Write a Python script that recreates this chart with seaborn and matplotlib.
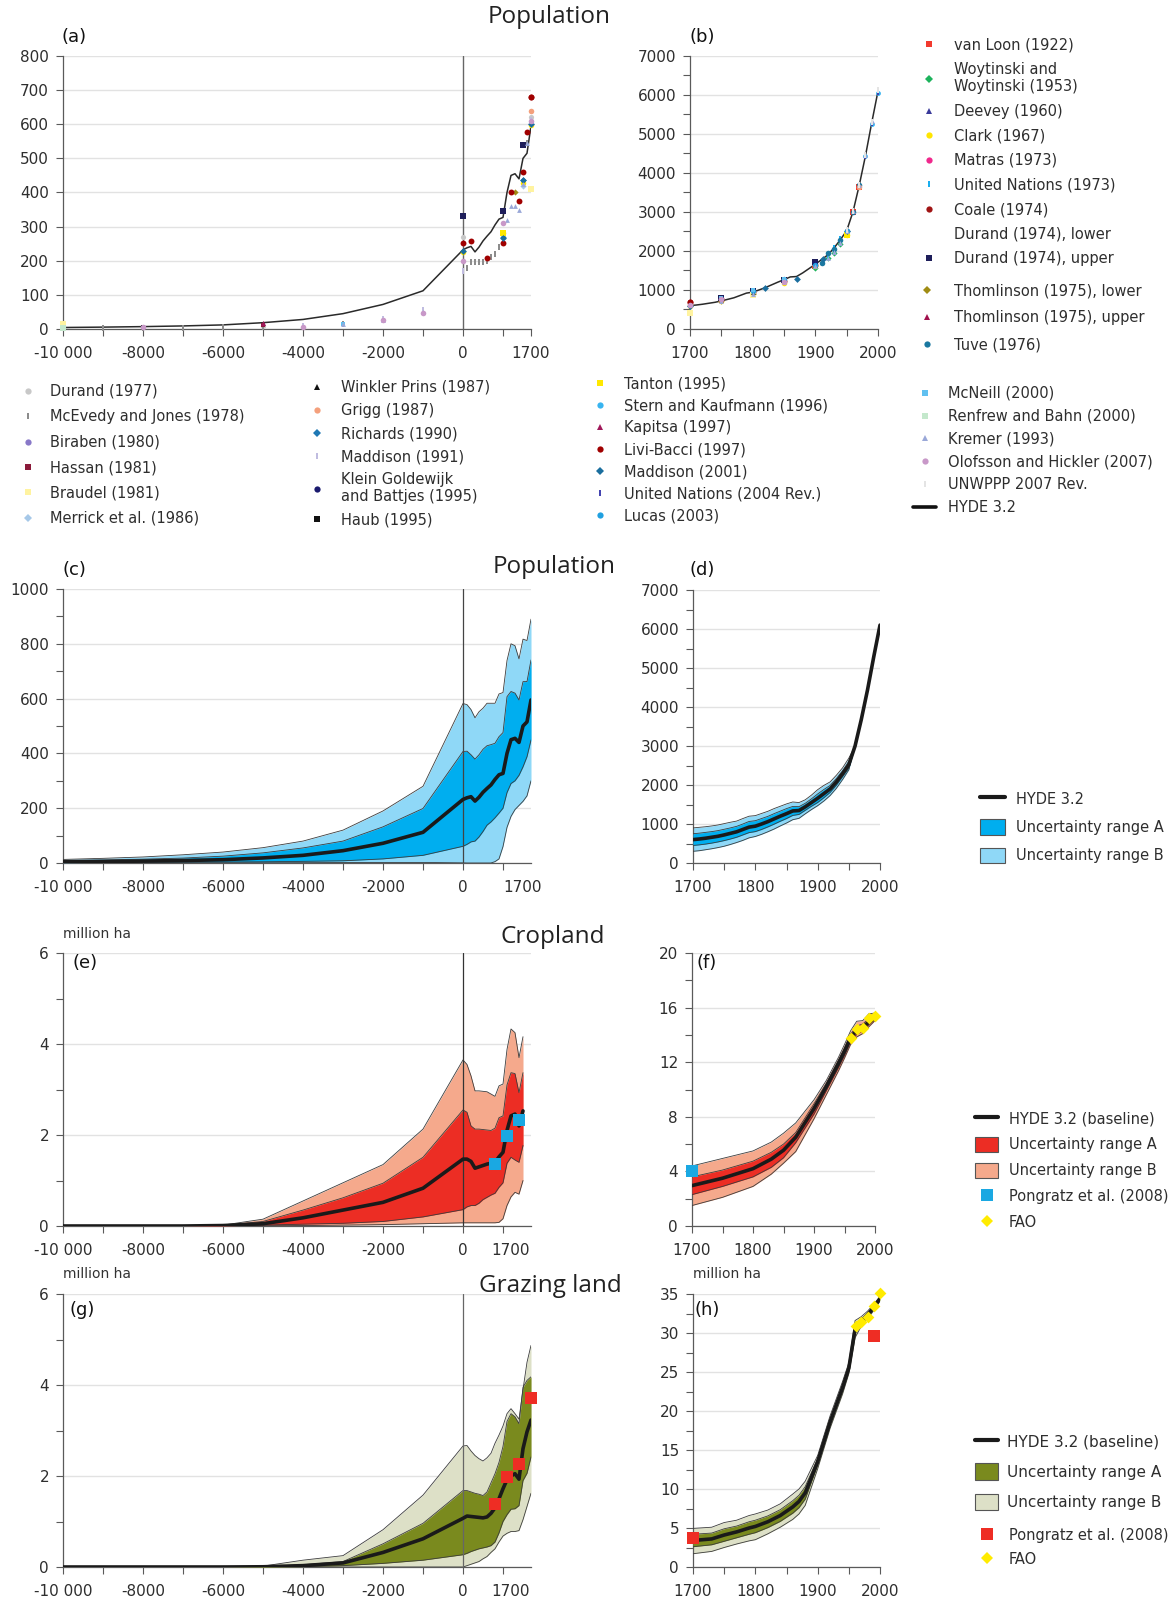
import matplotlib
matplotlib.use("Agg")
import matplotlib.pyplot as plt
import seaborn as sns
from matplotlib.lines import Line2D
from matplotlib.patches import Patch

# ======================= DATA =======================
# --- population, long period (million) ---
pop_years_long = [-10000, -9000, -8000, -7000, -6000, -5000, -4000, -3000, -2000, -1000,
                  0, 100, 200, 300, 400, 500, 600, 700, 800, 900, 1000, 1100, 1200, 1300,
                  1400, 1500, 1600, 1700]
pop_hyde_long = [4.4, 5.5, 7.0, 9.0, 12.0, 18.5, 28.0, 45.0, 72.0, 112.0,
                 232.0, 238.0, 242.0, 226.0, 240.0, 258.0, 272.0, 285.0, 305.0, 322.0,
                 327.0, 400.0, 450.0, 455.0, 440.0, 500.0, 515.0, 595.0]
pop_A_lo_long = [1.5, 2.0, 2.5, 3.0, 3.5, 4.5, 6.0, 8.0, 15.0, 28.0,
                 61.0, 68.0, 77.0, 80.0, 95.0, 115.0, 138.0, 150.0, 165.0, 182.0,
                 200.0, 257.0, 290.0, 300.0, 320.0, 351.0, 388.0, 449.0]
pop_A_hi_long = [9.0, 11.0, 14.0, 18.0, 25.0, 37.0, 55.0, 80.0, 132.0, 199.0,
                 407.0, 408.0, 395.0, 379.0, 395.0, 415.0, 428.0, 432.0, 437.0, 461.0,
                 476.0, 607.0, 626.0, 620.0, 595.0, 662.0, 662.0, 741.0]
pop_B_lo_long = [0.3, 0.4, 0.5, 0.6, 0.8, 1.0, 1.2, 1.6, 2.0, 2.0,
                 0.5, 0.0, 0.0, 0.0, 0.0, 0.0, 0.0, 0.0, 5.0, 15.0,
                 60.0, 130.0, 170.0, 195.0, 210.0, 225.0, 245.0, 300.0]
pop_B_hi_long = [13.0, 17.0, 22.0, 30.0, 40.0, 56.0, 80.0, 120.0, 190.0, 280.0,
                 582.0, 578.0, 560.0, 530.0, 552.0, 565.0, 583.0, 583.0, 583.0, 617.0,
                 622.0, 739.0, 800.0, 793.0, 745.0, 817.0, 812.0, 890.0]

# --- population, 1700-2000 ---
pop_years_recent = [1700, 1710, 1720, 1730, 1740, 1750, 1760, 1770, 1780, 1790, 1800,
                    1810, 1820, 1830, 1840, 1850, 1860, 1870, 1880, 1890, 1900,
                    1910, 1920, 1930, 1940, 1950, 1960, 1970, 1980, 1990, 2000]
pop_hyde_recent = [600, 615, 635, 660, 685, 720, 760, 800, 860, 920, 945,
                   1000, 1060, 1130, 1200, 1265, 1335, 1345, 1440, 1550, 1660,
                   1780, 1900, 2080, 2290, 2520, 3000, 3680, 4440, 5290, 6100]
pop_A_lo_recent = [450, 465, 485, 510, 540, 575, 615, 660, 720, 780, 805,
                   860, 925, 995, 1070, 1140, 1220, 1245, 1350, 1455, 1550,
                   1675, 1810, 1995, 2215, 2435, 3000, 3680, 4440, 5290, 6100]
pop_A_hi_recent = [750, 765, 785, 805, 830, 865, 900, 940, 1000, 1065, 1085,
                   1140, 1195, 1265, 1330, 1395, 1450, 1445, 1530, 1645, 1770,
                   1885, 1990, 2165, 2365, 2605, 3000, 3680, 4440, 5290, 6100]
pop_B_lo_recent = [300, 315, 340, 365, 395, 430, 475, 525, 580, 645, 680,
                   735, 800, 870, 950, 1025, 1110, 1145, 1260, 1370, 1470,
                   1590, 1730, 1915, 2140, 2390, 3000, 3680, 4440, 5290, 6100]
pop_B_hi_recent = [900, 915, 930, 950, 975, 1010, 1045, 1075, 1140, 1200, 1215,
                   1270, 1325, 1395, 1455, 1515, 1565, 1550, 1620, 1740, 1880,
                   1990, 2080, 2250, 2440, 2690, 3000, 3680, 4440, 5290, 6100]

# --- cropland, long period ---
crop_years_long = [-10000, -9000, -8000, -7000, -6000, -5000, -4000, -3000, -2000, -1000,
                   0, 100, 200, 300, 400, 500, 600, 700, 800, 900, 1000, 1100, 1200,
                   1300, 1400, 1500]
crop_hyde_long = [0.0, 0.0, 0.0, 0.0, 0.01, 0.05, 0.18, 0.35, 0.52, 0.83,
                  1.47, 1.47, 1.42, 1.27, 1.30, 1.33, 1.36, 1.38, 1.40, 1.52, 1.62,
                  2.10, 2.42, 2.46, 2.20, 2.53]
crop_A_lo_long = [0.0, 0.0, 0.0, 0.0, 0.005, 0.02, 0.04, 0.06, 0.10, 0.20,
                  0.36, 0.42, 0.45, 0.45, 0.50, 0.58, 0.63, 0.68, 0.72, 0.85, 0.95,
                  1.38, 1.51, 1.45, 1.40, 1.77]
crop_A_hi_long = [0.0, 0.0, 0.0, 0.0, 0.015, 0.10, 0.35, 0.62, 0.94, 1.51,
                  2.55, 2.50, 2.20, 2.13, 2.13, 2.12, 2.11, 2.10, 2.15, 2.38, 2.42,
                  3.10, 3.37, 3.35, 2.93, 3.37]
crop_B_lo_long = [0.0, 0.0, 0.0, 0.0, 0.0, 0.005, 0.01, 0.02, 0.03, 0.05,
                  0.07, 0.07, 0.07, 0.07, 0.07, 0.07, 0.07, 0.07, 0.07, 0.08, 0.16,
                  0.45, 0.64, 0.74, 0.70, 1.00]
crop_B_hi_long = [0.0, 0.0, 0.0, 0.0, 0.02, 0.15, 0.55, 0.95, 1.35, 2.13,
                  3.65, 3.55, 3.30, 2.97, 2.97, 2.96, 2.95, 2.90, 2.85, 3.08, 3.12,
                  3.88, 4.33, 4.25, 3.70, 4.16]

# --- cropland, 1700-2000 ---
crop_years_recent = [1700, 1750, 1800, 1830, 1850, 1870, 1900, 1920, 1940, 1950,
                     1960, 1970, 1980, 1990, 2000]
crop_hyde_recent = [2.96, 3.50, 4.20, 4.90, 5.55, 6.50, 8.60, 10.20, 11.90, 12.80,
                    13.80, 14.35, 14.55, 14.95, 15.30]
crop_A_lo_recent = [2.30, 2.90, 3.60, 4.30, 5.00, 6.10, 8.20, 9.90, 11.60, 12.50,
                    13.50, 14.05, 14.30, 14.75, 15.15]
crop_A_hi_recent = [3.60, 4.10, 4.75, 5.40, 6.00, 6.85, 8.95, 10.45, 12.15, 13.05,
                    14.05, 14.65, 14.80, 15.20, 15.45]
crop_B_lo_recent = [1.50, 2.10, 2.90, 3.80, 4.60, 5.45, 7.85, 9.60, 11.35, 12.30,
                    13.30, 13.85, 14.10, 14.60, 15.05]
crop_B_hi_recent = [4.40, 4.95, 5.50, 6.15, 6.80, 7.55, 9.25, 10.65, 12.35, 13.30,
                    14.30, 15.00, 15.05, 15.55, 15.60]
crop_pongratz_years = [800, 1100, 1400, 1700]
crop_pongratz_vals = [1.37, 1.97, 2.34, 4.0]
crop_fao_years = [1961, 1970, 1980, 1990, 2000]
crop_fao_vals = [13.8, 14.45, 14.5, 15.25, 15.35]

# --- grazing land, long period ---
graz_years_long = pop_years_long
graz_hyde_long = [0.0, 0.0, 0.0, 0.0, 0.0, 0.005, 0.03, 0.09, 0.32, 0.62,
                  1.07, 1.12, 1.11, 1.10, 1.09, 1.08, 1.10, 1.18, 1.30, 1.50,
                  1.72, 1.92, 2.00, 2.05, 1.93, 2.60, 2.97, 3.23]
graz_A_lo_long = [0.0, 0.0, 0.0, 0.0, 0.0, 0.0, 0.01, 0.03, 0.08, 0.15,
                  0.27, 0.30, 0.34, 0.37, 0.40, 0.42, 0.44, 0.47, 0.55, 0.75,
                  1.00, 1.15, 1.27, 1.28, 1.35, 1.90, 2.06, 2.42]
graz_A_hi_long = [0.0, 0.0, 0.0, 0.0, 0.0, 0.01, 0.05, 0.12, 0.51, 0.96,
                  1.68, 1.68, 1.65, 1.62, 1.60, 1.57, 1.65, 1.85, 2.05, 2.30,
                  2.65, 3.20, 3.37, 3.30, 3.15, 3.95, 4.10, 4.18]
graz_B_lo_long = [0.0, 0.0, 0.0, 0.0, 0.0, 0.0, 0.0, 0.0, 0.0, 0.0,
                  0.0, 0.03, 0.06, 0.09, 0.12, 0.18, 0.23, 0.32, 0.40, 0.55,
                  0.68, 0.74, 0.78, 0.78, 0.80, 1.04, 1.33, 1.62]
graz_B_hi_long = [0.0, 0.0, 0.0, 0.0, 0.0, 0.02, 0.15, 0.25, 0.82, 1.58,
                  2.66, 2.67, 2.55, 2.45, 2.38, 2.33, 2.40, 2.50, 2.72, 2.90,
                  3.10, 3.37, 3.48, 3.37, 3.25, 3.90, 4.50, 4.87]

# --- grazing land, 1700-2000 ---
graz_years_recent = [1700, 1730, 1750, 1770, 1790, 1800, 1820, 1840, 1860, 1870,
                     1880, 1900, 1920, 1940, 1950, 1960, 1970, 1980, 1990, 2000]
graz_hyde_recent = [3.4, 3.6, 4.1, 4.5, 5.0, 5.2, 5.8, 6.6, 7.7, 8.4,
                    9.5, 13.5, 18.6, 23.0, 25.5, 30.5, 31.5, 32.3, 33.3, 34.4]
graz_A_lo_recent = [2.6, 2.85, 3.3, 3.75, 4.2, 4.4, 5.05, 5.85, 6.9, 7.6,
                    8.7, 13.1, 18.2, 22.6, 25.15, 29.95, 31.2, 32.05, 33.1, 34.25]
graz_A_hi_recent = [4.2, 4.35, 4.9, 5.25, 5.8, 6.0, 6.55, 7.35, 8.5, 9.2,
                    10.3, 13.9, 19.0, 23.4, 25.85, 31.05, 31.8, 32.55, 33.5, 34.55]
graz_B_lo_recent = [1.7, 2.0, 2.5, 2.95, 3.35, 3.5, 4.25, 5.1, 6.1, 6.8,
                    7.9, 12.6, 17.8, 22.2, 24.8, 29.4, 30.9, 31.8, 32.9, 34.1]
graz_B_hi_recent = [4.95, 5.1, 5.7, 6.0, 6.6, 6.8, 7.3, 8.1, 9.35, 10.0,
                    11.0, 14.3, 19.4, 23.8, 26.2, 31.6, 32.1, 32.8, 33.7, 34.7]
graz_pongratz_years = [800, 1100, 1400, 1700, 1990]
graz_pongratz_vals = [1.39, 1.97, 2.27, 3.72, 29.6]
graz_fao_years = [1961, 1970, 1980, 1990, 2000]
graz_fao_vals = [30.9, 31.4, 32.1, 33.5, 35.1]

# --- population estimates from literature (panels a and b) ---
src_labels = [
    "van Loon (1922)", "Woytinski and\nWoytinski (1953)", "Deevey (1960)", "Clark (1967)",
    "Matras (1973)", "United Nations (1973)", "Coale (1974)", "Durand (1974), lower",
    "Durand (1974), upper", "Thomlinson (1975), lower", "Thomlinson (1975), upper",
    "Tuve (1976)",
    "Durand (1977)", "McEvedy and Jones (1978)", "Biraben (1980)", "Hassan (1981)",
    "Braudel (1981)", "Merrick et al. (1986)",
    "Winkler Prins (1987)", "Grigg (1987)", "Richards (1990)", "Maddison (1991)",
    "Klein Goldewijk\nand Battjes (1995)", "Haub (1995)",
    "Tanton (1995)", "Stern and Kaufmann (1996)", "Kapitsa (1997)", "Livi-Bacci (1997)",
    "Maddison (2001)", "United Nations (2004 Rev.)", "Lucas (2003)",
    "McNeill (2000)", "Renfrew and Bahn (2000)", "Kremer (1993)",
    "Olofsson and Hickler (2007)", "UNWPPP 2007 Rev.",
]
src_years = [
    [1900, 1960, 1970],
    [1900, 1920, 1930, 1940],
    [1750, 1800, 1900],
    [0, 1000, 1500, 1700, 1750, 1800, 1850, 1900, 1950],
    [1750, 1800, 1850, 1900],
    [1920, 1930, 1940, 1950, 1960, 1970],
    [1700, 1750, 1800, 1850, 1900],
    [1750, 1800, 1850, 1900],
    [0, 1000, 1500, 1750, 1800, 1850, 1900],
    [1300, 1750, 1800],
    [1750, 1800, 1850],
    [1900, 1910, 1920, 1930, 1940, 1950, 1960, 1970],
    [-10000, -5000, 0, 1700, 1750, 1800],
    [-10000, -9000, -8000, -7000, -6000, -5000, -4000, -3000, -2000, -1000, 0, 100, 200,
     300, 400, 500, 600, 700, 800, 900, 1000, 1600],
    [1700, 1750, 1800, 1850, 1900],
    [-10000, -5000],
    [-10000, 1700, 1800],
    [1500, 1700, 1800, 1850, 1900],
    [1800],
    [1700, 1970],
    [1000, 1500],
    [-4000, -2000, -1000, 0, 1000, 1700],
    [1750, 1900],
    [-8000],
    [1000, 1950],
    [1980, 1990, 2000],
    [-5000],
    [0, 200, 600, 1000, 1200, 1400, 1500, 1600, 1700],
    [0, 1000, 1500, 1700, 1820, 1870, 1913, 1950],
    [1950, 1960, 1970, 1980, 1990, 2000],
    [1800, 1850, 1900, 1950],
    [-3000, 1750, 1800, 1850],
    [-10000],
    [-3000, -2000, -1000, 1100, 1200, 1300, 1400, 1500, 1600, 1700, 1750, 1800, 1850,
     1900, 1920, 1930, 1940, 1950, 1960, 1970, 1980, 1990],
    [-8000, -4000, -2000, -1000, 0, 1000, 1700, 1750, 1850],
    [1950, 1960, 1970, 1980, 1990, 2000],
]
src_values = [
    [1610, 2990, 3640],
    [1570, 1810, 1950, 2170],
    [770, 920, 1660],
    [225, 282, 428, 598, 725, 905, 1185, 1610, 2400],
    [725, 900, 1210, 1650],
    [1860, 2070, 2300, 2510, 3000, 3630],
    [680, 770, 950, 1240, 1650],
    [700, 880, 1150, 1550],
    [330, 345, 540, 800, 970, 1260, 1710],
    [400, 710, 890],
    [780, 950, 1260],
    [1650, 1700, 1950, 2050, 2270, 2500, 3010, 3680],
    [6, 9, 270, 620, 760, 930],
    [4, 4, 4, 4, 5, 5, 7, 14, 27, 50, 170, 180, 195, 195, 195, 195, 200, 210, 220, 240,
     254, 545],
    [605, 770, 950, 1240, 1630],
    [5, 12],
    [15, 410, 860],
    [420, 600, 980, 1290, 1650],
    [940],
    [640, 3640],
    [270, 437],
    [8, 30, 55, 170, 262, 612],
    [790, 1700],
    [5],
    [282, 2400],
    [4430, 5260, 6060],
    [18],
    [252, 257, 207, 253, 400, 375, 460, 578, 680],
    [230, 268, 437, 600, 1040, 1270, 1790, 2520],
    [2520, 3020, 3700, 4440, 5280, 6070],
    [985, 1265, 1650, 2520],
    [14, 790, 1000, 1280],
    [4],
    [14, 27, 50, 320, 360, 360, 350, 425, 545, 610, 720, 900, 1200, 1625, 1813, 1987,
     2213, 2516, 3019, 3693, 4450, 5333],
    [5, 7, 25, 48, 200, 310, 610, 760, 1200],
    [2535, 3032, 3699, 4451, 5295, 6124],
]

# ======================= STYLES =======================
BAR = [(-0.38, -1), (0.38, -1), (0.38, 1), (-0.38, 1), (-0.38, -1)]
src_colors = [
    "#F23A2E", "#1DB35C", "#3A3A9A", "#FFE500", "#F0288C", "#1AAEEF", "#A01414", "#FFFFFF",
    "#1E1E5A", "#A08C14", "#A0104C", "#1A78A0",
    "#C8C8C8", "#8C8C8C", "#8878C8", "#8B1A3A", "#FFF3A0", "#A6C8E8",
    "#111111", "#F4A07C", "#1F78B4", "#C0BCE0", "#1A1A6E", "#111111",
    "#FFE800", "#38B4F0", "#A0185A", "#A00000", "#1A6E9E", "#4444B0", "#20A0E0",
    "#60C0F0", "#C4E8CC", "#9AA8D8", "#C898C8", "#E4E4E4",
]
src_markers = [
    "s", "D", "^", "o", "o", BAR, "o", "o", "s", "D", "^", "o",
    "o", BAR, "o", "s", "s", "D",
    "^", "o", "D", BAR, "o", "s",
    "s", "o", "^", "o", "D", BAR, "o",
    "s", "s", "^", "o", BAR,
]
src_sizes = [14, 10, 14, 16, 10, 22, 18, 14, 14, 10, 12, 16,
             14, 22, 14, 10, 14, 10,
             12, 16, 10, 22, 14, 6,
             14, 12, 14, 18, 12, 22, 14,
             12, 14, 12, 16, 22]

POP_A, POP_B = "#00AEEF", "#8FD8F7"
CROP_A, CROP_B = "#EC2D24", "#F5A98C"
GRAZ_A, GRAZ_B = "#7A8A1E", "#DDE0C7"
EDGE = "#3c3c3c"
TXT = "#2e2e2e"
SP = "#5a5a5a"
TICK_FS = 11
LEG_FS = 10.5

sns.set_theme(style="white")
plt.rcParams["font.family"] = ["DejaVu Sans"]
plt.rcParams["axes.unicode_minus"] = False

W, H = 1169, 1601
fig = plt.figure(figsize=(W / 100, H / 100), dpi=100)
fig.patch.set_facecolor("white")


def add_ax(l, r, t, b):
    return fig.add_axes([l / W, 1 - b / H, (r - l) / W, (b - t) / H])


def style_ax(ax, xlim, ylim, ymaj, ymin, xmaj, xlab, xmin, hide_last_tick=False):
    ax.set_xlim(*xlim)
    ax.set_ylim(*ylim)
    ax.set_yticks(ymaj)
    ax.set_yticklabels([f"{v:g}" for v in ymaj])
    if ymin:
        ax.set_yticks(ymin, minor=True)
    ax.set_xticks(xmaj)
    ax.set_xticklabels(xlab)
    if xmin:
        ax.set_xticks(xmin, minor=True)
    ax.grid(False)
    ax.yaxis.grid(True, which="major", color="#e2e2e2", lw=1.0)
    ax.set_axisbelow(True)
    ax.set_facecolor("white")
    for s in ["top", "right"]:
        ax.spines[s].set_visible(False)
    for s in ["left", "bottom"]:
        ax.spines[s].set_color(SP)
        ax.spines[s].set_linewidth(0.9)
    ax.tick_params(which="both", bottom=True, left=True, direction="out", color=SP,
                   width=0.8, length=5, labelcolor=TXT, labelsize=TICK_FS)
    ax.tick_params(axis="x", which="both", pad=7)
    ax.tick_params(axis="y", which="both", pad=5)
    if hide_last_tick:
        ax.xaxis.get_major_ticks()[-1].tick1line.set_visible(False)


def draw_bands(ax, x, blo, bhi, alo, ahi, mid, cB, cA, mid_lw=2.6):
    ax.fill_between(x, blo, bhi, color=cB, lw=0, zorder=2)
    ax.fill_between(x, alo, ahi, color=cA, lw=0, zorder=3)
    for arr in (blo, bhi, alo, ahi):
        sns.lineplot(x=x, y=arr, ax=ax, color=EDGE, lw=0.6, sort=False,
                     estimator=None, zorder=4, legend=False)
    sns.lineplot(x=x, y=mid, ax=ax, color="#1a1a1a", lw=mid_lw, sort=False,
                 estimator=None, zorder=6, legend=False)


def scatter_sources(ax, keep):
    for lab, yrs, vals, c, m, s in zip(src_labels, src_years, src_values,
                                       src_colors, src_markers, src_sizes):
        px = [y for y in yrs if keep(y)]
        pv = [v for y, v in zip(yrs, vals) if keep(y)]
        if not px:
            continue
        sns.scatterplot(x=px, y=pv, ax=ax, color=c, marker=m, s=s, linewidth=0,
                        zorder=7 if c != "#FFFFFF" else 1, clip_on=False, legend=False)


long_xmaj_vals = [-10000, -8000, -6000, -4000, -2000, 0]
long_xlabels = ["-10 000", "-8000", "-6000", "-4000", "-2000", "0", "1700"]
long_xminor = [-9000, -7000, -5000, -3000, -1000, 1000]
rec_xmaj = [1700, 1800, 1900, 2000]
rec_xlab = ["1700", "1800", "1900", "2000"]
rec_xmin = [1750, 1850, 1950]

# ---------------- (a) ----------------
ax_a = add_ax(63, 531, 56, 329)
ax_a.axvline(0, color="#666666", lw=1.0, zorder=5)
sns.lineplot(x=pop_years_long, y=pop_hyde_long, ax=ax_a, color="#2a2a2a", lw=1.1,
             sort=False, estimator=None, zorder=6, legend=False)
scatter_sources(ax_a, lambda y: y <= 1700)
style_ax(ax_a, (-10000, 1700), (0, 800), list(range(0, 801, 100)), None,
         long_xmaj_vals + [1700], long_xlabels, long_xminor)

# ---------------- (b) ----------------
ax_b = add_ax(690, 878, 56, 329)
sns.lineplot(x=pop_years_recent, y=pop_hyde_recent, ax=ax_b, color="#2a2a2a", lw=1.1,
             sort=False, estimator=None, zorder=6, legend=False)
scatter_sources(ax_b, lambda y: y >= 1700)
style_ax(ax_b, (1700, 2000), (0, 7000), list(range(0, 7001, 1000)),
         list(range(500, 7000, 1000)), rec_xmaj, rec_xlab, rec_xmin)

# ---------------- (c) ----------------
ax_c = add_ax(63, 531, 589, 863)
draw_bands(ax_c, pop_years_long, pop_B_lo_long, pop_B_hi_long, pop_A_lo_long,
           pop_A_hi_long, pop_hyde_long, POP_B, POP_A)
ax_c.axvline(0, color="#444444", lw=0.9, zorder=5)
style_ax(ax_c, (-10000, 1700), (0, 1000), list(range(0, 1001, 200)),
         list(range(100, 1000, 200)), long_xmaj_vals + [1480], long_xlabels, long_xminor,
         hide_last_tick=True)

# ---------------- (d) ----------------
ax_d = add_ax(693, 880, 590, 863)
draw_bands(ax_d, pop_years_recent, pop_B_lo_recent, pop_B_hi_recent, pop_A_lo_recent,
           pop_A_hi_recent, pop_hyde_recent, POP_B, POP_A)
style_ax(ax_d, (1700, 2000), (0, 7000), list(range(0, 7001, 1000)),
         list(range(500, 7000, 1000)), rec_xmaj, rec_xlab, rec_xmin)

# ---------------- (e) ----------------
ax_e = add_ax(63, 531, 953, 1226)
draw_bands(ax_e, crop_years_long, crop_B_lo_long, crop_B_hi_long, crop_A_lo_long,
           crop_A_hi_long, crop_hyde_long, CROP_B, CROP_A)
ax_e.axvline(0, color="#333333", lw=0.9, zorder=5)
px = [y for y in crop_pongratz_years if y < 1700]
pv = [v for y, v in zip(crop_pongratz_years, crop_pongratz_vals) if y < 1700]
sns.scatterplot(x=px, y=pv, ax=ax_e, color="#1AA8E2", marker="s", s=75, linewidth=0,
                zorder=8, legend=False)
style_ax(ax_e, (-10000, 1700), (0, 6), [0, 2, 4, 6], [1, 3, 5],
         long_xmaj_vals + [1200], long_xlabels, long_xminor, hide_last_tick=True)

# ---------------- (f) ----------------
ax_f = add_ax(692, 875, 953, 1226)
draw_bands(ax_f, crop_years_recent, crop_B_lo_recent, crop_B_hi_recent,
           crop_A_lo_recent, crop_A_hi_recent, crop_hyde_recent, CROP_B, CROP_A)
px = [y for y in crop_pongratz_years if y >= 1700]
pv = [v for y, v in zip(crop_pongratz_years, crop_pongratz_vals) if y >= 1700]
sns.scatterplot(x=px, y=pv, ax=ax_f, color="#1AA8E2", marker="s", s=75, linewidth=0,
                zorder=8, clip_on=False, legend=False)
sns.scatterplot(x=crop_fao_years, y=crop_fao_vals, ax=ax_f, color="#FFEB00", marker="D",
                s=36, linewidth=0, zorder=8, clip_on=False, legend=False)
style_ax(ax_f, (1700, 2000), (0, 20), [0, 4, 8, 12, 16, 20], [2, 6, 10, 14, 18],
         rec_xmaj, rec_xlab, rec_xmin)

# ---------------- (g) ----------------
ax_g = add_ax(63, 531, 1294, 1567)
draw_bands(ax_g, graz_years_long, graz_B_lo_long, graz_B_hi_long, graz_A_lo_long,
           graz_A_hi_long, graz_hyde_long, GRAZ_B, GRAZ_A)
ax_g.axvline(0, color="#666666", lw=0.9, zorder=5)
px = [y for y in graz_pongratz_years if y <= 1700]
pv = [v for y, v in zip(graz_pongratz_years, graz_pongratz_vals) if y <= 1700]
sns.scatterplot(x=px, y=pv, ax=ax_g, color="#EE2D24", marker="s", s=75, linewidth=0,
                zorder=8, clip_on=False, legend=False)
style_ax(ax_g, (-10000, 1700), (0, 6), [0, 2, 4, 6], [1, 3, 5],
         long_xmaj_vals + [1200], long_xlabels, long_xminor, hide_last_tick=True)

# ---------------- (h) ----------------
ax_h = add_ax(693, 880, 1294, 1567)
draw_bands(ax_h, graz_years_recent, graz_B_lo_recent, graz_B_hi_recent,
           graz_A_lo_recent, graz_A_hi_recent, graz_hyde_recent, GRAZ_B, GRAZ_A)
px = [y for y in graz_pongratz_years if y >= 1700]
pv = [v for y, v in zip(graz_pongratz_years, graz_pongratz_vals) if y >= 1700]
sns.scatterplot(x=px, y=pv, ax=ax_h, color="#EE2D24", marker="s", s=75, linewidth=0,
                zorder=8, clip_on=False, legend=False)
sns.scatterplot(x=graz_fao_years, y=graz_fao_vals, ax=ax_h, color="#FFEB00", marker="D",
                s=36, linewidth=0, zorder=8, clip_on=False, legend=False)
style_ax(ax_h, (1700, 2000), (0, 35), list(range(0, 36, 5)),
         [2.5, 7.5, 12.5, 17.5, 22.5, 27.5, 32.5], rec_xmaj, rec_xlab, rec_xmin)

# ---------------- texts ----------------
TITLE_FONT = ["Open Sans", "DejaVu Sans"]
for txt, x, y in [("Population", 549, 17), ("Population", 554, 567),
                  ("Cropland", 553, 937), ("Grazing land", 550, 1286)]:
    fig.text(x / W, 1 - y / H, txt, ha="center", va="center", fontsize=17.5,
             color="#222222", family=TITLE_FONT)
for lab, x, y in [("(a)", 74, 37), ("(b)", 702, 37), ("(c)", 74, 570), ("(d)", 702, 570),
                  ("(e)", 85, 963), ("(f)", 707, 963), ("(g)", 82, 1310), ("(h)", 707, 1310)]:
    fig.text(x / W, 1 - y / H, lab, ha="center", va="center", fontsize=13, color="#111111")
for x, y in [(63, 934), (63, 1274), (693, 1274)]:
    fig.text(x / W, 1 - y / H, "million ha", ha="left", va="center", fontsize=10,
             color="#333333")


# ---------------- legends ----------------
def src_handle(i):
    return Line2D([], [], ls="none", marker=src_markers[i], color=src_colors[i],
                  markersize=4.5, markeredgewidth=0)


def place_legend(handles, labels, x, y, fs, hl, htp, ls, hh=0.7):
    fig.legend(handles, labels, loc="upper left", bbox_to_anchor=(x / W, 1 - y / H),
               frameon=False, fontsize=fs, handlelength=hl, handletextpad=htp,
               labelspacing=ls, handleheight=hh, borderpad=0, borderaxespad=0,
               labelcolor=TXT)


idx_r1 = list(range(0, 9))
idx_r2 = [9, 10, 11]
idx_c1 = list(range(12, 18))
idx_c2 = list(range(18, 24))
idx_c3 = list(range(24, 31))
idx_c4 = list(range(31, 36))

place_legend([src_handle(i) for i in idx_r1], [src_labels[i] for i in idx_r1],
             922, 37, LEG_FS, 1.0, 1.2, 0.66)
place_legend([src_handle(i) for i in idx_r2], [src_labels[i] for i in idx_r2],
             920, 283, LEG_FS, 1.0, 1.3, 0.83)
place_legend([src_handle(i) for i in idx_c1], [src_labels[i] for i in idx_c1],
             21, 384, LEG_FS, 1.0, 1.02, 0.71)
place_legend([src_handle(i) for i in idx_c2], [src_labels[i] for i in idx_c2],
             310, 380, LEG_FS, 1.0, 1.15, 0.55)
place_legend([src_handle(i) for i in idx_c3], [src_labels[i] for i in idx_c3],
             593, 376, LEG_FS, 1.0, 1.15, 0.48)
place_legend([src_handle(i) for i in idx_c4] + [Line2D([], [], color="#111111", lw=2.6)],
             [src_labels[i] for i in idx_c4] + ["HYDE 3.2"],
             913, 386, LEG_FS, 1.6, 0.8, 0.53)

# (d)
place_legend([Line2D([], [], color="#1a1a1a", lw=3),
              Patch(facecolor=POP_A, edgecolor="#555555", lw=0.8),
              Patch(facecolor=POP_B, edgecolor="#555555", lw=0.8)],
             ["HYDE 3.2", "Uncertainty range A", "Uncertainty range B"],
             980, 791, LEG_FS, 1.7, 0.75, 0.85, hh=1.3)
# (f)
place_legend([Line2D([], [], color="#1a1a1a", lw=3),
              Patch(facecolor=CROP_A, edgecolor="#555555", lw=0.8),
              Patch(facecolor=CROP_B, edgecolor="#555555", lw=0.8),
              Line2D([], [], ls="none", marker="s", color="#1AA8E2", markersize=8, mew=0),
              Line2D([], [], ls="none", marker="D", color="#FFEB00", markersize=6, mew=0)],
             ["HYDE 3.2 (baseline)", "Uncertainty range A", "Uncertainty range B",
              "Pongratz et al. (2008)", "FAO"],
             975, 1111, LEG_FS, 1.6, 0.7, 0.72, hh=1.2)
# (h)
place_legend([Line2D([], [], color="#1a1a1a", lw=3),
              Patch(facecolor=GRAZ_A, edgecolor="#555555", lw=0.8),
              Patch(facecolor=GRAZ_B, edgecolor="#555555", lw=0.8)],
             ["HYDE 3.2 (baseline)", "Uncertainty range A", "Uncertainty range B"],
             975, 1433, 11, 1.5, 0.6, 0.9, hh=1.3)
place_legend([Line2D([], [], ls="none", marker="s", color="#EE2D24", markersize=8, mew=0),
              Line2D([], [], ls="none", marker="D", color="#FFEB00", markersize=6, mew=0)],
             ["Pongratz et al. (2008)", "FAO"],
             975, 1528, LEG_FS, 1.6, 0.7, 0.62, hh=1.0)

fig.savefig("out.png", dpi=100, facecolor="white")
